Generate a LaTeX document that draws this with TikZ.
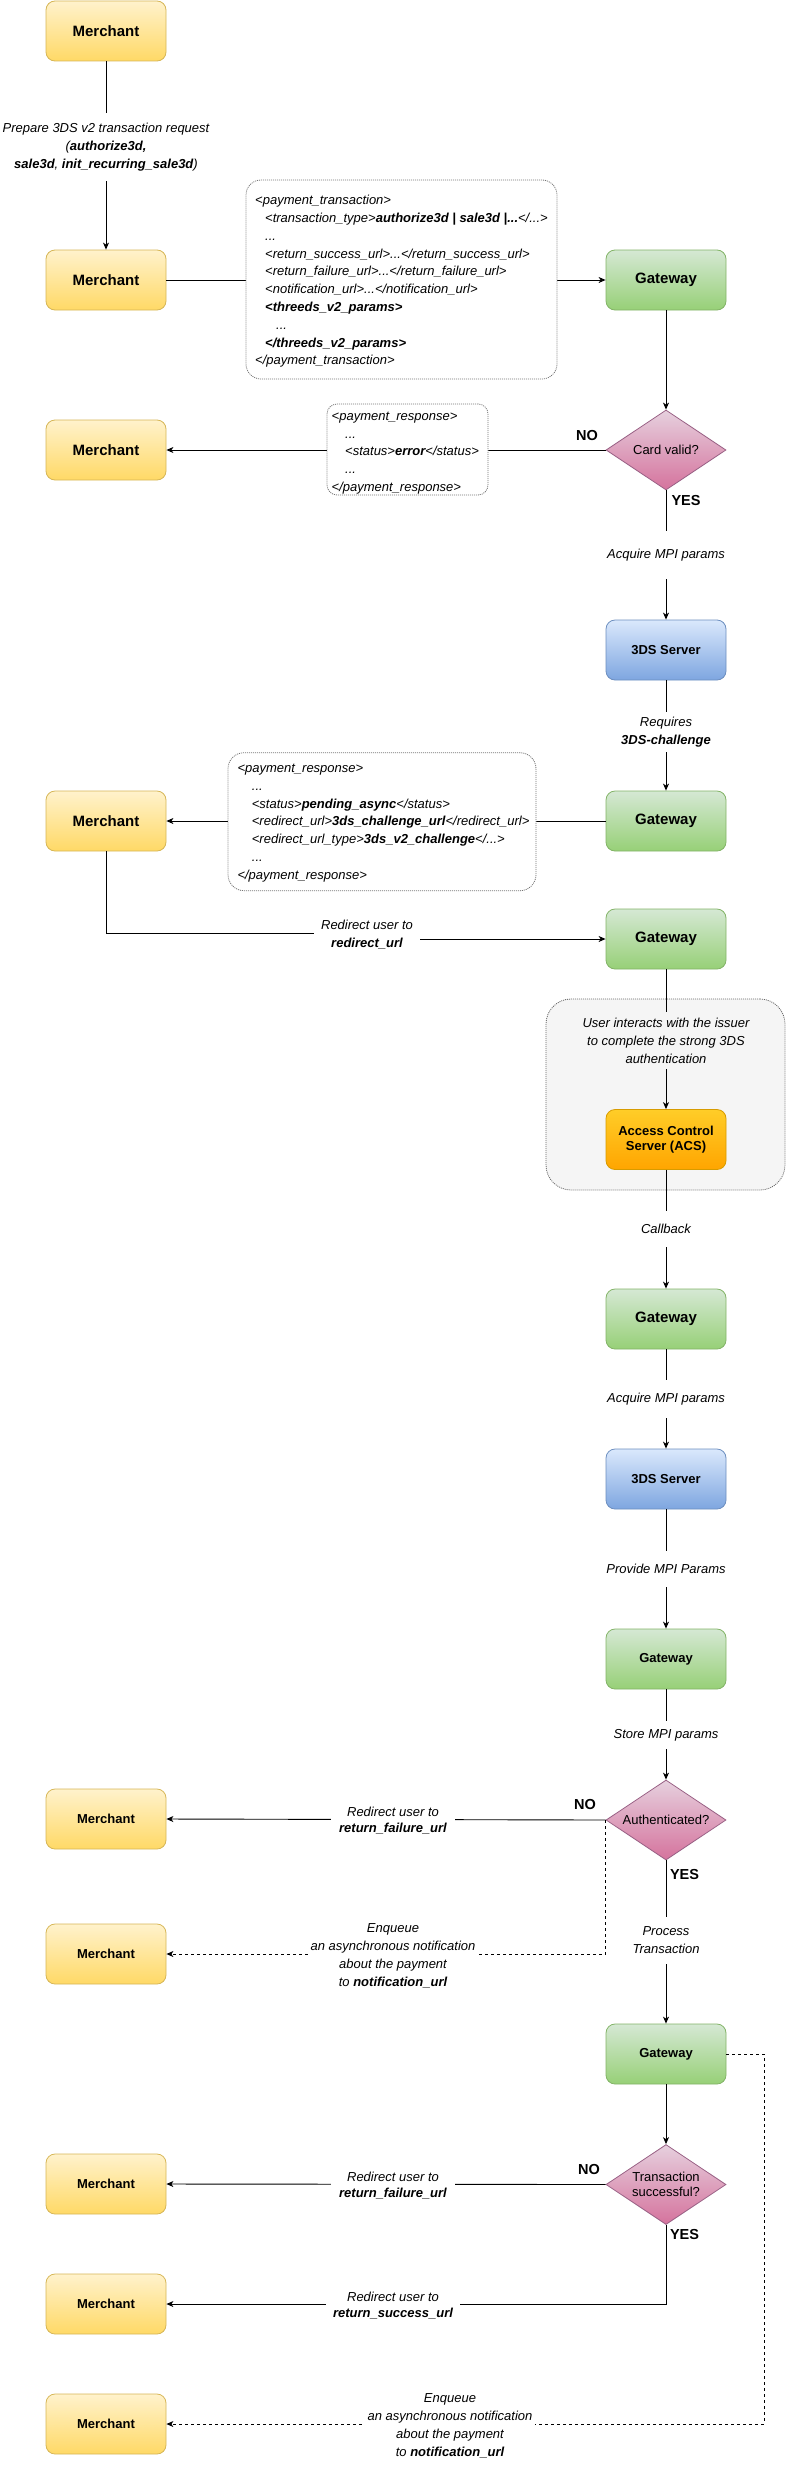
\documentclass[tikz,border=0pt]{standalone}
\usepackage{fontspec}
\setmainfont{Liberation Sans}
\usetikzlibrary{shapes.geometric,arrows.meta}

\definecolor{mTop}{HTML}{FFF2CC}\definecolor{mBot}{HTML}{FFD966}\definecolor{mLine}{HTML}{D6B656}
\definecolor{gTop}{HTML}{D5E8D4}\definecolor{gBot}{HTML}{97D077}\definecolor{gLine}{HTML}{82B366}
\definecolor{sTop}{HTML}{DAE8FC}\definecolor{sBot}{HTML}{7EA6E0}\definecolor{sLine}{HTML}{6C8EBF}
\definecolor{dTop}{HTML}{E6D0DE}\definecolor{dBot}{HTML}{D5739D}\definecolor{dLine}{HTML}{996185}
\definecolor{aTop}{HTML}{FFCD28}\definecolor{aBot}{HTML}{FFA500}\definecolor{aLine}{HTML}{D79B00}
\definecolor{grpFill}{HTML}{F5F5F5}\definecolor{grpLine}{HTML}{666666}

\tikzset{
 flowbox/.style={rounded corners=9pt, minimum width=120pt, minimum height=60pt, inner sep=0pt, align=center, line width=0.8pt},
 bigtxt/.style={font=\fontsize{15pt}{18pt}\selectfont\bfseries},
 smalltxt/.style={font=\fontsize{13pt}{15.6pt}\selectfont\bfseries},
 merchant/.style={flowbox, top color=mTop, bottom color=mBot, draw=mLine},
 gateway/.style={flowbox, top color=gTop, bottom color=gBot, draw=gLine},
 server/.style={flowbox, top color=sTop, bottom color=sBot, draw=sLine, smalltxt},
 acsbox/.style={flowbox, top color=aTop, bottom color=aBot, draw=aLine, smalltxt},
 decision/.style={diamond, shape aspect=1.5, minimum width=120pt, minimum height=80pt, inner sep=0pt,
   top color=dTop, bottom color=dBot, draw=dLine, line width=0.8pt, align=center,
   font=\fontsize{13pt}{15pt}\selectfont},
 codebox/.style={draw=black!55, dash pattern=on 1pt off 1pt, fill=white, line width=0.8pt, inner sep=0pt},
 codetext/.style={anchor=west, align=left, inner sep=0pt, font=\fontsize{13pt}{17.8pt}\selectfont\itshape},
 elabel/.style={fill=white, align=center, inner xsep=4pt, inner ysep=6pt, font=\fontsize{13pt}{18pt}\selectfont\itshape},
 retlbl/.style={inner xsep=8pt, inner ysep=2pt, font=\fontsize{13pt}{16pt}\selectfont\itshape},
 yesno/.style={inner sep=0pt, font=\fontsize{14.5pt}{17pt}\selectfont\bfseries},
 link/.style={line width=0.9pt, draw=black},
 arr/.style={link, -{Stealth[length=7pt, width=6pt, inset=2pt]}},
 darr/.style={arr, dash pattern=on 3pt off 3pt},
}

\begin{document}
\begin{tikzpicture}[x=1pt, y=-1pt]
\useasboundingbox (0,0) rectangle (786,2465);

% group box
\node[draw=grpLine, fill=grpFill, dash pattern=on 1pt off 1pt, line width=0.8pt, rounded corners=25pt,
      minimum width=239pt, minimum height=191pt, inner sep=0pt] (grp) at (665.5,1094.5) {};

% shapes
\node[merchant, bigtxt] (m1) at (106,31) {Merchant};
\node[merchant, bigtxt] (m2) at (106,280) {Merchant};
\node[gateway, bigtxt] (g1) at (666,280) {Gateway};
\node[decision] (d1) at (666,450) {Card valid?};
\node[merchant, bigtxt] (m3) at (106,450) {Merchant};
\node[server] (s1) at (666,650) {3DS Server};
\node[gateway, bigtxt] (g2) at (666,821) {Gateway};
\node[merchant, bigtxt] (m4) at (106,821) {Merchant};
\node[gateway, bigtxt] (g3) at (666,939) {Gateway};
\node[acsbox] (acs) at (666,1139.5) {Access Control\\Server (ACS)};
\node[gateway, bigtxt] (g4) at (666,1319) {Gateway};
\node[server] (s2) at (666,1479) {3DS Server};
\node[gateway, smalltxt] (g5) at (666,1659) {Gateway};
\node[decision] (d2) at (666,1820) {Authenticated?};
\node[merchant, smalltxt] (m5) at (106,1819) {Merchant};
\node[merchant, smalltxt] (m6) at (106,1954) {Merchant};
\node[gateway, smalltxt] (g6) at (666,2054) {Gateway};
\node[decision] (d3) at (666,2184.5) {Transaction\\successful?};
\node[merchant, smalltxt] (m7) at (106,2184) {Merchant};
\node[merchant, smalltxt] (m8) at (106,2304) {Merchant};
\node[merchant, smalltxt] (m9) at (106,2424) {Merchant};

% helper coordinates
\coordinate (j1) at (106,933);
\coordinate (j2) at (366,933);
\coordinate (j3) at (366,939);
\coordinate (c1) at (764,2054);

% connectors
\draw[arr] (m1.south) -- (m2.north);
\draw[arr] (m2.east) -- (g1.west);
\draw[arr] (g1.south) -- (d1.north);
\draw[arr] (d1.west) -- (m3.east);
\draw[arr] (d1.south) -- (s1.north);
\draw[arr] (s1.south) -- (g2.north);
\draw[arr] (g2.west) -- (m4.east);
\draw[arr] (m4.south) -- (j1) -- (j2) -- (j3) -- (g3.west);
\draw[arr] (g3.south) -- (acs.north);
\draw[arr] (acs.south) -- (g4.north);
\draw[arr] (g4.south) -- (s2.north);
\draw[arr] (s2.south) -- (g5.north);
\draw[arr] (g5.south) -- (d2.north);
\draw[arr] (d2.west) -- (m5.east);
\draw[darr] (d2.west) |- (m6.east);
\draw[arr] (d2.south) -- (g6.north);
\draw[arr] (g6.south) -- (d3.north);
\draw[arr] (d3.west) -- (m7.east);
\draw[arr] (d3.south) |- (m8.east);
\draw[darr] (g6.east) -- (c1) |- (m9.east);

% message boxes
\node[codebox, rounded corners=15pt, minimum width=311pt, minimum height=199pt] (txbox) at (401.5,279.5) {};
\node[codetext] (txtext) at (255,281.5) {<payment\_transaction>\\
\hspace*{10pt}<transaction\_type>\textbf{authorize3d | sale3d |...}</...>\\
\hspace*{10pt}...\\
\hspace*{10pt}<return\_success\_url>...</return\_success\_url>\\
\hspace*{10pt}<return\_failure\_url>...</return\_failure\_url>\\
\hspace*{10pt}<notification\_url>...</notification\_url>\\
\hspace*{10pt}\textbf{<threeds\_v2\_params>}\\
\hspace*{21pt}...\\
\hspace*{10pt}\textbf{</threeds\_v2\_params>}\\
</payment\_transaction>};

\node[codebox, rounded corners=10pt, minimum width=161pt, minimum height=91pt] (errbox) at (407.5,449.5) {};
\node[codetext] (errtext) at (331.5,453) {<payment\_response>\\
\hspace*{13.5pt}...\\
\hspace*{13.5pt}<status>\textbf{error}</status>\\
\hspace*{13.5pt}...\\
</payment\_response>};

\node[codebox, rounded corners=16pt, minimum width=308pt, minimum height=138pt] (chalbox) at (382,821.7) {};
\node[codetext] (chaltext) at (237.3,823) {<payment\_response>\\
\hspace*{14.4pt}...\\
\hspace*{14.4pt}<status>\textbf{pending\_async}</status>\\
\hspace*{14.4pt}<redirect\_url>\textbf{3ds\_challenge\_url}</redirect\_url>\\
\hspace*{14.4pt}<redirect\_url\_type>\textbf{3ds\_v2\_challenge}</...>\\
\hspace*{14.4pt}...\\
</payment\_response>};

% connector labels
\node[elabel, inner ysep=10pt] (lprep) at (106,147) {Prepare 3DS v2 transaction request\\(\textbf{authorize3d,}\\\textbf{sale3d}, \textbf{init\_recurring\_sale3d})};
\node[elabel, inner ysep=18pt] (lacq1) at (666,555) {Acquire MPI params};
\node[elabel, inner ysep=4.5pt] (lreq) at (666,732) {Requires\\\textbf{3DS-challenge}};
\node[elabel, inner xsep=7.5pt, inner ysep=2pt] (lred) at (367,935) {Redirect user to\\\textbf{redirect\_url}};
\node[elabel, fill=grpFill, inner ysep=6pt] (luser) at (666,1040.5) {User interacts with the issuer\\to complete the strong 3DS\\authentication};
\node[elabel, inner ysep=13pt] (lcb) at (666,1229) {Callback};
\node[elabel, inner ysep=13pt] (lacq2) at (666,1399) {Acquire MPI params};
\node[elabel, inner ysep=13pt] (lprov) at (666,1569) {Provide MPI Params};
\node[elabel, inner ysep=8pt] (lstore) at (666,1735) {Store MPI params};
\node[elabel, retlbl] (lrf1) at (393,1820.5) {Redirect user to\\\textbf{return\_failure\_url}};
\node[elabel, inner xsep=3pt, inner ysep=1pt] (lenq1) at (393,1955.5) {Enqueue\\an asynchronous notification\\about the payment\\to \textbf{notification\_url}};
\node[elabel, inner ysep=9.5pt] (lproc) at (666,1940.5) {Process\\Transaction};
\node[elabel, retlbl] (lrf2) at (393,2186) {Redirect user to\\\textbf{return\_failure\_url}};
\node[elabel, retlbl, inner xsep=7pt] (lrs) at (393,2306) {Redirect user to\\\textbf{return\_success\_url}};
\node[elabel, inner xsep=3pt, inner ysep=1pt] (lenq2) at (450,2425.5) {Enqueue\\an asynchronous notification\\about the payment\\to \textbf{notification\_url}};

% yes / no
\node[yesno] (no1) at (587,436) {NO};
\node[yesno] (yes1) at (686,501) {YES};
\node[yesno] (no2) at (585,1804) {NO};
\node[yesno] (yes2) at (684.5,1874) {YES};
\node[yesno] (no3) at (589,2169) {NO};
\node[yesno] (yes3) at (684.5,2234) {YES};
\end{tikzpicture}
\end{document}
